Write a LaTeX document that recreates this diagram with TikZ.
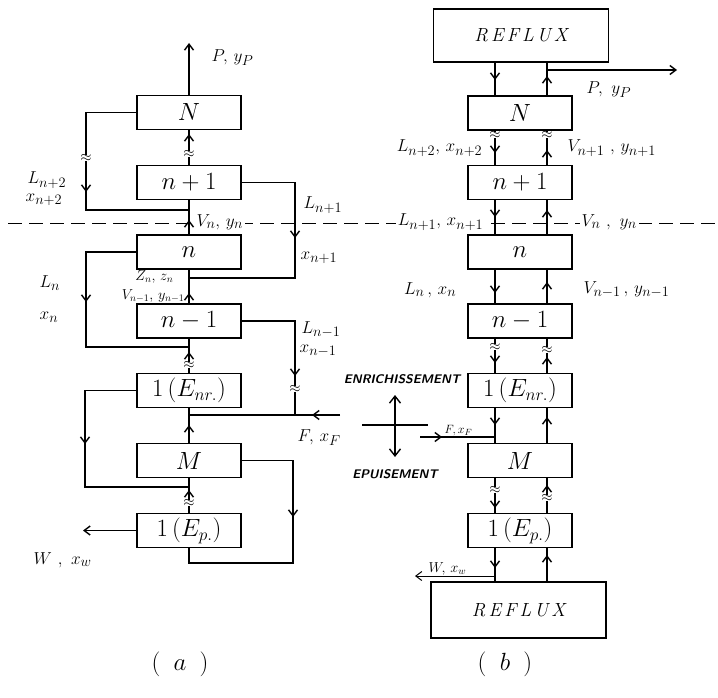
\documentclass[tikz,border=0pt]{standalone}
\usetikzlibrary{arrows.meta}
\newcommand\arrUp[2]{\draw[->] ({#1},{#2+12}) -- ({#1},{#2});}
\newcommand\arrDn[2]{\draw[->] ({#1},{#2-12}) -- ({#1},{#2});}
\newcommand\brk[2]{\node[brk] at (#1,#2) {$\approx$};}
\begin{document}
\begin{tikzpicture}[x=1pt,y=-1pt,line width=1.4pt,
  >={Straight Barb[length=6pt,width=9pt]},
  stage/.style={draw,line width=1.3pt,minimum width=104pt,minimum height=34pt,inner sep=0pt,font=\fontsize{23}{26}\selectfont},
  reflux/.style={draw,line width=1.3pt,minimum width=175pt,inner sep=0pt,font=\fontsize{19}{22}\selectfont\itshape},
  lab/.style={inner sep=1pt,font=\fontsize{19}{22}\selectfont},
  slab/.style={inner sep=0pt,font=\fontsize{14}{16}\selectfont},
  wlab/.style={inner sep=2pt,fill=white,font=\fontsize{19}{22}\selectfont},
  brk/.style={fill=white,inner sep=0pt,font=\Large},
  zone/.style={inner sep=0pt,font=\fontsize{12.5}{14}\selectfont\sffamily\bfseries\itshape},
  captext/.style={inner sep=0pt,font=\fontsize{44}{48}\selectfont}]
\useasboundingbox (0,0) rectangle (718,698);
% dashed separation line
\coordinate (dl) at (8,223);
\coordinate (dr) at (718,223);
\draw[line width=1pt,dash pattern=on 14pt off 7pt] (dl) -- (dr);

% ---------------- column (a) ----------------
\node[stage] (aN)  at (189,112.5) {$N$};
\node[stage] (an1) at (189,182.5) {$n+1$};
\node[stage] (an)  at (189,252) {$n$};
\node[stage] (anm) at (189,321) {$n-1$};
\node[stage] (aE)  at (189,390.5) {$1\,(E_{nr.})$};
\node[stage] (aM)  at (189,460.5) {$M$};
\node[stage] (aP)  at (189,530.5) {$1\,(E_{p.})$};

\coordinate (aTop) at (189,43);
\coordinate (j1) at (189,210);
\coordinate (j2) at (189,278);
\coordinate (j3) at (189,347);
\coordinate (j4) at (189,415);
\coordinate (j5) at (189,487);
\coordinate (aF0) at (340,415);
\coordinate (aW) at (83,530.5);

\draw[->] (aN.north) -- (aTop);
\node[lab,anchor=west] (lP) at (210,58) {$P,\,y_P$};

\draw (aN.south) -- (an1.north); \arrUp{189}{134} \brk{189}{154}
\draw (aN.west) -- (86,112.5) -- (86,210) -- (j1); \brk{86}{158} \arrDn{86}{192}
\node[lab,anchor=west] at (26,180) {$L_{n+2}$};
\node[lab,anchor=west] at (24,200) {$x_{n+2}$};

\draw (an.north) -- (an1.south); \arrUp{189}{220}
\node[wlab,anchor=west] at (194,222) {$V_n,\,y_n$};

\draw (an1.east) -- (295,182.5) -- (295,278) -- (j2); \arrDn{295}{238}
\node[lab,anchor=west] at (302,205) {$L_{n+1}$};
\node[lab,anchor=west] at (299,258) {$x_{n+1}$};

\draw (an.west) -- (86,252) -- (86,347) -- (j3); \arrDn{86}{302}
\node[lab,anchor=west] at (38,283) {$L_n$};
\node[lab,anchor=west] at (38,317) {$x_n$};

\draw (anm.north) -- (an.south); \arrUp{189}{293}
\node[slab,anchor=east] at (174,277) {$Z_n,\,z_n$};
\node[slab,anchor=east] at (185,296) {$V_{n-1},\,y_{n-1}$};

\draw (anm.east) -- (295,321) -- (295,415); \arrDn{295}{376} \brk{295}{389}
\node[lab,anchor=west] at (300,330) {$L_{n-1}$};
\node[lab,anchor=west] at (298,351) {$x_{n-1}$};

\draw (aE.north) -- (anm.south); \arrUp{189}{352} \brk{189}{365}
\draw (aE.west) -- (85,390.5) -- (85,487) -- (j5); \arrDn{85}{444}
\draw (aF0) -- (j4); \draw[->] (328,415) -- (312,415);
\node[lab,anchor=west] at (296,438) {$F,\,x_F$};
\draw (aM.north) -- (aE.south); \arrUp{189}{425}
\draw (aM.east) -- (293,460.5) -- (293,563) -- (189,563) -- (aP.south); \arrDn{293}{517}
\draw (aP.north) -- (aM.south); \arrUp{189}{490} \brk{189}{503}
\draw[->] (aP.west) -- (aW);
\node[lab,anchor=west] at (32,560) {$W\ ,\ x_w$};

% ---------------- column (b) ----------------
\coordinate (Lx) at (495,0);
\coordinate (Rx) at (547,0);
\node[reflux,minimum height=53pt] (bRT) at (521,35.5) {R\,E\,F\,L\,U\,X};
\node[stage] (bN)  at (520,113) {$N$};
\node[stage] (bn1) at (520,182.5) {$n+1$};
\node[stage] (bn)  at (520,252) {$n$};
\node[stage] (bnm) at (520,321) {$n-1$};
\node[stage] (bE)  at (520,390.5) {$1\,(E_{nr.})$};
\node[stage] (bM)  at (520,460.5) {$M$};
\node[stage] (bP)  at (520,530.5) {$1\,(E_{p.})$};
\node[reflux,minimum height=56pt] (bRB) at (518.5,610) {R\,E\,F\,L\,U\,X};

\draw (bRT.south -| Lx) -- (bN.north -| Lx); \arrDn{495}{80}
\draw (bN.north -| Rx) -- (bRT.south -| Rx); \arrUp{547}{76}
\coordinate (bPj) at (547,70);
\coordinate (bPend) at (677,70);
\draw[->] (bPj) -- (bPend);
\node[lab,anchor=west] at (585,90) {$P,\ y_P$};

\draw (bN.south -| Lx) -- (bn1.north -| Lx); \brk{495}{135} \arrDn{495}{153}
\draw (bn1.north -| Rx) -- (bN.south -| Rx); \brk{547}{135} \arrUp{547}{150}
\node[lab,anchor=east] at (484,148) {$L_{n+2},\,x_{n+2}$};
\node[lab,anchor=west] at (566,148) {$V_{n+1}\ ,\,y_{n+1}$};

\draw (bn1.south -| Lx) -- (bn.north -| Lx); \arrDn{495}{217}
\draw (bn.north -| Rx) -- (bn1.south -| Rx); \arrUp{547}{210}
\node[wlab,anchor=east] at (486,222) {$L_{n+1},\,x_{n+1}$};
\node[wlab,anchor=west] at (579,222) {$V_n\ ,\ y_n$};

\draw (bn.south -| Lx) -- (bnm.north -| Lx); \arrDn{495}{293}
\draw (bnm.north -| Rx) -- (bn.south -| Rx); \arrUp{547}{282}
\node[lab,anchor=east] at (458,290) {$L_n\,,\,x_n$};
\node[lab,anchor=west] at (582,290) {$V_{n-1}\,,\,y_{n-1}$};

\draw (bnm.south -| Lx) -- (bE.north -| Lx); \brk{495}{347} \arrDn{495}{363}
\draw (bE.north -| Rx) -- (bnm.south -| Rx); \brk{547}{350} \arrUp{547}{357}

\draw (bE.south -| Lx) -- (bM.north -| Lx); \arrDn{495}{425}
\draw (bM.north -| Rx) -- (bE.south -| Rx); \arrUp{547}{417}
\coordinate (bF0) at (420,437);
\coordinate (bFj) at (495,437);
\draw (bF0) -- (bFj); \draw[->] (422,437) -- (442,437);
\node[inner sep=0pt,anchor=south west,font=\fontsize{13}{15}\selectfont] at (444,437) {$F,x_F$};

\draw (bM.south -| Lx) -- (bP.north -| Lx); \brk{495}{490} \arrDn{495}{508}
\draw (bP.north -| Rx) -- (bM.south -| Rx); \arrUp{547}{485} \brk{547}{498}

\draw (bP.south -| Lx) -- (bRB.north -| Lx); \arrDn{495}{568}
\draw (bRB.north -| Rx) -- (bP.south -| Rx); \arrUp{547}{555}
\coordinate (bWj) at (495,576);
\coordinate (bWend) at (415,576);
\draw[->,line width=1pt] (bWj) -- (bWend);
\node[inner sep=0pt,anchor=south west,font=\fontsize{14}{16}\selectfont] at (428,576) {$W,\,x_w$};

% enrichment / stripping cross
\coordinate (cu) at (395,395);
\coordinate (cd) at (395,457);
\coordinate (cl) at (362,425);
\coordinate (cr) at (428,425);
\draw[<->,>={Straight Barb[length=7pt,width=11pt]}] (cu) -- (cd);
\draw (cl) -- (cr);
\node[zone] (enr) at (402,379) {ENRICHISSEMENT};
\node[zone] (epu) at (395,474) {EPUISEMENT};

% captions
\node[captext] (capa) at (180,664) {$(\ a\ )$};
\node[captext] (capb) at (505,664) {$(\ b\ )$};
\end{tikzpicture}
\end{document}
